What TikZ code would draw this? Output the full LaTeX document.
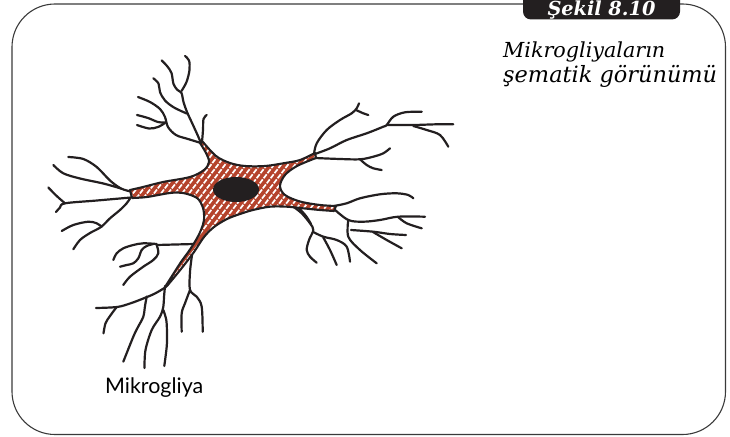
\documentclass[tikz,border=0pt]{standalone}
\usepackage{graphicx}
\usepackage{fontspec}
\setmainfont{DejaVu Serif}
\newfontfamily\labelfont{Lato}
\definecolor{ink}{HTML}{231F20}
\definecolor{cellred}{HTML}{B5432C}
\definecolor{framegray}{HTML}{3A3A3A}

% outline of the cell body (soma with its five thick arms)
\def\cellbody{plot[smooth,tension=0.55] coordinates {(130,190) (143,187) (163,182) (190,177) (204,170) (209,162) (206,153) (200,143)}
 -- plot[smooth,tension=0.55] coordinates {(203,142) (216,156) (230,163) (245,166) (265,166) (285,163) (300,160) (315,153)}
 -- plot[smooth,tension=0.55] coordinates {(316,158) (297,166) (285,175) (280,186) (285,195) (300,201.5) (320,205) (336,206)}
 -- plot[smooth,tension=0.55] coordinates {(334,211) (320,210) (303,208.3) (287,206.7) (270,206.7) (253,210) (240,214) (227,219) (214,227) (204,237) (194,252) (181,269) (167,286)}
 -- plot[smooth,tension=0.55] coordinates {(165,287) (172,276) (181,262) (189,251) (196,240) (201,230) (204,220) (203,208) (197,198) (183,193) (170,193) (147,197) (132,198)}
 -- cycle}

\begin{document}
\begin{tikzpicture}[x=1pt,y=-1pt,
  dend/.style={draw=ink,line width=2.2pt,line cap=round,line join=round},
  frameline/.style={draw=framegray,line width=1.1pt},
  hatchline/.style={draw=white,line width=1.7pt,dash pattern=on 5pt off 1.4pt}]
\useasboundingbox (0,0) rectangle (730,436);

% frame with rounded corners and title tab
\draw[frameline,rounded corners=43pt] (523,4) -- (12,4) -- (12,434.5) -- (725.5,434.5) -- (725.5,4) -- (679,4);
\fill[ink,rounded corners=8pt] (523,-10) -- (523,19.5) -- (680,19.5) -- (680,-10) -- cycle;
\node[anchor=base,text=white,inner sep=0pt] (title) at (601.5,15.5) {\resizebox{108pt}{!}{\bfseries\itshape Şekil 8.10}};

\node[anchor=base west,inner sep=0pt] (cap1) at (503,57) {\resizebox{162pt}{!}{\itshape Mikrogliyaların}};
\node[anchor=base west,inner sep=0pt] (cap2) at (503,82.5) {\resizebox{214pt}{!}{\itshape şematik görünümü}};

\node[anchor=base west,inner sep=0pt] (label) at (105,393) {\resizebox{98pt}{!}{\labelfont Mikrogliya}};

% upper processes
\draw[dend] plot[smooth,tension=0.55] coordinates {(161.7,60.5) (167,66) (171.5,73) (173.5,84) (177.5,90) (181.5,93) (183.5,102) (187,112) (193,125) (198,136) (201,143)};
\draw[dend] plot[smooth,tension=0.55] coordinates {(185,56) (189,60.5) (189.5,70) (186.5,82) (181.5,91)};
\draw[dend] plot[smooth,tension=0.55] coordinates {(153.3,78.3) (158.5,83.5) (160,92) (165,100.5) (174,107.5) (186.7,113.5)};
\draw[dend] plot[smooth,tension=0.55] coordinates {(138,97) (150,102) (160,109) (165,117) (168,127) (176,135) (188,139) (201,143)};
\draw[dend] plot[smooth,tension=0.55] coordinates {(137,115) (148,118) (158,122) (166,122.5)};
\draw[dend] plot[smooth,tension=0.55] coordinates {(137,125) (149,128.5) (158,127) (165,123)};
\draw[dend] plot[smooth,tension=0.55] coordinates {(206.7,115) (203.5,119) (203,130) (202,142)};

% left processes
\draw[dend] plot[smooth,tension=0.55] coordinates {(68.3,157) (83.3,159) (96.7,167) (110,180.5) (121,188.5) (131,191.5)};
\draw[dend] plot[smooth,tension=0.55] coordinates {(53.3,165) (63.3,173.3) (80,178.5) (103.3,183.5) (121,188.5)};
\draw[dend] plot[smooth,tension=0.55] coordinates {(48.3,187.5) (56.7,196) (65,203.3)};
\draw[dend] plot[smooth,tension=0.55] coordinates {(56,212) (60,207.5) (65,203.3) (97,200.5) (131,197.5)};
\draw[dend] plot[smooth,tension=0.55] coordinates {(130,198.5) (126.5,203.5) (120,210) (110,218.3) (101,227) (90,233) (80,240) (73.3,249.3)};
\draw[dend] plot[smooth,tension=0.55] coordinates {(61.7,231) (73.3,225) (88.3,221.7) (96.7,223.3) (101.7,226.7)};

% lower processes
\draw[dend] plot[smooth,tension=0.55] coordinates {(166,287) (155,293.5) (143.3,298.5) (130,303.5) (117,307) (96,308)};
\draw[dend] plot[smooth,tension=0.55] coordinates {(116.7,307) (110,316) (105.5,323.3) (103.5,333.3)};
\draw[dend] plot[smooth,tension=0.55] coordinates {(146.7,296.5) (145,306) (143.3,316.7) (138,327) (133.3,336.7) (123.3,361.7)};
\draw[dend] plot[smooth,tension=0.55] coordinates {(165,286) (164,297) (163.3,307) (160,316.7) (151.7,330) (145.5,350) (144.5,368)};
\draw[dend] plot[smooth,tension=0.55] coordinates {(163.3,310) (166.3,320) (167,334) (166.7,346.7) (164.3,366)};
\draw[dend] plot[smooth,tension=0.55] coordinates {(192,255) (190,272) (190,290) (196.7,296.7) (201.7,306.7) (202.7,331.7)};
\draw[dend] plot[smooth,tension=0.55] coordinates {(190,290) (185,303.3) (181.7,313.3) (181.7,331.7)};
\draw[dend] plot[smooth,tension=0.55] coordinates {(156.7,245) (175,244.5) (194,244)};
\draw[dend] plot[smooth,tension=0.55] coordinates {(113.3,260) (116.7,253.3) (123.3,248.3) (133.3,245) (143.3,243.3) (156.7,244)};
\draw[dend] plot[smooth,tension=0.55] coordinates {(120,266.7) (126.7,265) (133.3,263.3) (138.3,258.3) (141.7,250) (146.7,246) (153.3,244)};
\draw[dend] plot[smooth,tension=0.55] coordinates {(123.3,285) (130,276.7) (143.3,266.7) (153.3,260) (158.3,253.3) (156.7,245)};

% right processes
\draw[dend] plot[smooth,tension=0.55] coordinates {(314,154) (316.7,143.3) (326.7,130) (340,120) (351.7,113.3) (356.7,108.3) (359,103.3)};
\draw[dend] plot[smooth,tension=0.55] coordinates {(356,110) (363.3,113.3) (368.3,115)};
\draw[dend] plot[smooth,tension=0.55] coordinates {(315,154) (330,148.3) (346.7,140) (366.7,133.3) (383.3,126.7) (386.7,125) (393.3,116.7) (405,112.3) (421.7,111.7)};
\draw[dend] plot[smooth,tension=0.55] coordinates {(386.7,125) (413.3,125) (436.7,124.3) (453.3,124.3)};
\draw[dend] plot[smooth,tension=0.55] coordinates {(413.3,126) (426.7,130) (440,135) (448.3,146.7)};
\draw[dend] plot[smooth,tension=0.55] coordinates {(315,158) (340,159) (360,159.3) (373.3,156.7) (383.3,153.3) (390,148.3)};
\draw[dend] plot[smooth,tension=0.55] coordinates {(360,159.3) (366.7,165) (373.3,168.3) (381.7,170)};
\draw[dend] plot[smooth,tension=0.55] coordinates {(334,206) (346.7,203.3) (360,198.3) (380,194.3) (396.7,193.3) (408.3,195) (413.3,198.3)};
\draw[dend] plot[smooth,tension=0.55] coordinates {(334,209) (348.3,220) (363.3,221.7) (380,220) (398,216.7) (425,216.7)};
\draw[dend] plot[smooth,tension=0.55] coordinates {(398,217) (406.7,223.3) (421.7,228.3)};
\draw[dend] plot[smooth,tension=0.55] coordinates {(348.3,220) (348.3,236.7) (360,250) (376.7,263.3)};
\draw[dend] plot[smooth,tension=0.55] coordinates {(351,230) (373.3,231.7) (390,234) (406,235)};
\draw[dend] plot[smooth,tension=0.55] coordinates {(373,232) (386.7,240) (401.7,248.3)};
\draw[dend] plot[smooth,tension=0.55] coordinates {(293.3,206.7) (301.7,213.3) (310,223.3) (313.3,230) (309,240) (306.7,250) (310,256.7) (316.7,262.7)};
\draw[dend] plot[smooth,tension=0.55] coordinates {(298,207) (306,216) (311,224)};
\draw[dend] plot[smooth,tension=0.55] coordinates {(313.3,232) (323.3,236.7) (336.7,240) (346.7,246.7) (350,261.7)};
\draw[dend] plot[smooth,tension=0.55] coordinates {(323.3,237.5) (330,250) (336.7,265)};

% cell body: red fill with white dashed diagonal hatching
\begin{scope}
  \clip \cellbody;
  \fill[cellred] (100,120) rectangle (360,310);
  \foreach \k in {-25,...,38} {
    \draw[hatchline] ({100+7*\k},300) -- ++(140,-182);
  }
\end{scope}
\draw[draw=ink,line width=2.1pt,line join=round] \cellbody;

% nucleus
\fill[ink] (236,189.5) ellipse [x radius=23, y radius=12.5];
\end{tikzpicture}
\end{document}
